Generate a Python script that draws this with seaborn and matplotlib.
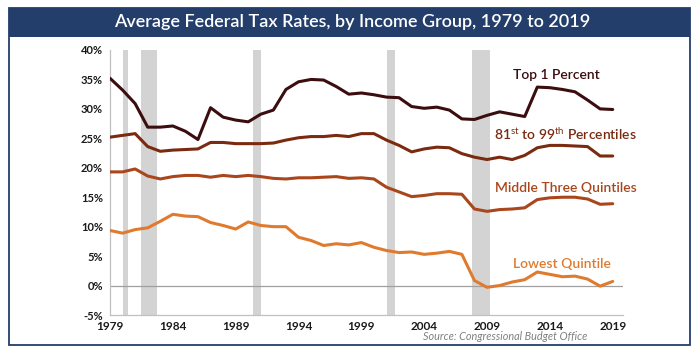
import matplotlib
matplotlib.use("Agg")
import matplotlib.pyplot as plt
from matplotlib.patches import Rectangle
import seaborn as sns
import pandas as pd
import numpy as np

years = list(range(1979, 2020))

top1 = [35.2, 33.2, 30.9, 26.9, 26.9, 27.1, 26.2, 24.8, 30.2, 28.6,
        28.1, 27.8, 29.1, 29.8, 33.3, 34.6, 35.0, 34.9, 33.8, 32.5,
        32.7, 32.4, 32.0, 31.9, 30.4, 30.1, 30.3, 29.8, 28.3, 28.2,
        28.9, 29.5, 29.1, 28.7, 33.7, 33.6, 33.3, 32.9, 31.5, 30.0, 29.9]
p81_99 = [25.2, 25.5, 25.8, 23.6, 22.8, 23.0, 23.1, 23.2, 24.3, 24.3,
          24.1, 24.1, 24.1, 24.2, 24.7, 25.1, 25.3, 25.3, 25.5, 25.3,
          25.8, 25.8, 24.7, 23.8, 22.7, 23.2, 23.5, 23.4, 22.4, 21.8,
          21.4, 21.8, 21.4, 22.1, 23.4, 23.8, 23.8, 23.7, 23.6, 22.0, 22.0]
middle3 = [19.3, 19.3, 19.8, 18.6, 18.1, 18.5, 18.7, 18.7, 18.4, 18.7,
           18.5, 18.7, 18.5, 18.2, 18.1, 18.3, 18.3, 18.4, 18.5, 18.2,
           18.3, 18.1, 16.7, 15.9, 15.1, 15.3, 15.6, 15.6, 15.5, 13.0,
           12.6, 12.9, 13.0, 13.2, 14.6, 14.9, 15.0, 15.0, 14.7, 13.8, 13.9]
lowest = [9.35, 8.9, 9.5, 9.8, 10.9, 12.1, 11.8, 11.7, 10.7, 10.2,
          9.6, 10.8, 10.2, 10.0, 10.0, 8.2, 7.65, 6.8, 7.1, 6.9,
          7.3, 6.5, 5.95, 5.6, 5.7, 5.3, 5.5, 5.8, 5.3, 0.85,
          -0.3, 0.0, 0.6, 1.0, 2.3, 1.9, 1.5, 1.6, 1.1, -0.1, 0.7]

groups = ["Top 1 Percent", "81st to 99th Percentiles",
          "Middle Three Quintiles", "Lowest Quintile"]
colors = ["#3b0d0f", "#7a2a10", "#a9461c", "#e07a2e"]
recessions = [(1980.0, 1980.45), (1981.5, 1982.75), (1990.4, 1991.05),
              (2001.05, 2001.65), (2007.8, 2009.25)]
xticks = [1979, 1984, 1989, 1994, 1999, 2004, 2009, 2014, 2019]
yticks = [-5, 0, 5, 10, 15, 20, 25, 30, 35, 40]

df = pd.DataFrame({
    "year": years * 4,
    "rate": top1 + p81_99 + middle3 + lowest,
    "group": sum([[g] * len(years) for g in groups], []),
})

sns.set_theme(style="white")
plt.rcParams["font.family"] = ["Lato", "DejaVu Sans"]
plt.rcParams["mathtext.fontset"] = "custom"
plt.rcParams["mathtext.rm"] = "Lato"
plt.rcParams["mathtext.it"] = "Lato"

fig = plt.figure(figsize=(6.99, 3.53), dpi=100)
W, H = 699, 353
ax = fig.add_axes([110 / W, 1 - 315 / H, (623 - 110) / W, (315 - 50) / H])

for a, b in recessions:
    ax.axvspan(a, b, color="#d3d3d3", lw=0, zorder=0)
ax.axhline(0, color="#a0a0a0", lw=0.9, zorder=1)

sns.lineplot(data=df, x="year", y="rate", hue="group", hue_order=groups,
             palette=colors, lw=2.2, legend=False, ax=ax, zorder=3)

ax.set_xlim(1979, 2019.82)
ax.set_ylim(-5, 40)
ax.set_xticks(xticks)
ax.set_xticklabels([str(t) for t in xticks])
ax.set_yticks(yticks)
ax.set_yticklabels([f"{t}%" for t in yticks])
ax.set_xlabel("")
ax.set_ylabel("")
for s in ["top", "right"]:
    ax.spines[s].set_visible(False)
for s in ["left", "bottom"]:
    ax.spines[s].set_color("#c0c0c0")
    ax.spines[s].set_linewidth(0.9)
ax.tick_params(axis="y", length=3, width=0.8, color="#c0c0c0", pad=2,
               labelsize=8, labelcolor="#1a1a1a")
ax.tick_params(axis="x", length=0, pad=4, labelsize=8.5, labelcolor="#1a1a1a")
for lab in ax.get_xticklabels() + ax.get_yticklabels():
    lab.set_fontweight("bold")

# series labels
lab_kw = dict(ha="center", va="center", fontsize=10, fontweight="semibold")
ax.text(2014.5, 35.7, "Top 1 Percent", color=colors[0], **lab_kw)
ax.text(2015.2, 25.7, r"81$^{\mathrm{st}}$ to 99$^{\mathrm{th}}$ Percentiles",
        color=colors[1], **lab_kw)
ax.text(2015.3, 16.6, "Middle Three Quintiles", color=colors[2], **lab_kw)
ax.text(2015.0, 3.7, "Lowest Quintile", color=colors[3], **lab_kw)

# frame and title bar
blue = "#243e6c"
fig.patches.append(Rectangle((9 / W, 1 - 344.5 / H), (689.5 - 9) / W, (344.5 - 8) / H,
                             transform=fig.transFigure, fill=False,
                             edgecolor=blue, lw=1.3, zorder=0))
fig.patches.append(Rectangle((9 / W, 1 - 36.5 / H), (689.5 - 9) / W, (36.5 - 8) / H,
                             transform=fig.transFigure, facecolor=blue,
                             edgecolor=blue, lw=0, zorder=0))
fig.text(352 / W, 1 - 22.5 / H, "Average Federal Tax Rates, by Income Group, 1979 to 2019",
         ha="center", va="center", color="white", fontsize=13, fontweight="semibold")
fig.text(587 / W, 1 - 336 / H, "Source: Congressional Budget Office",
         ha="right", va="center", color="#808080", fontsize=7.8, style="italic")

fig.savefig("out.png", dpi=100)
